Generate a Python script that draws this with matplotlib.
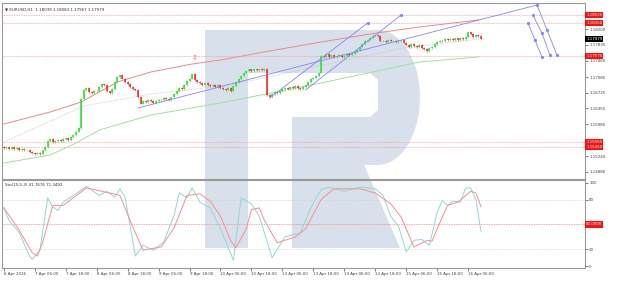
import numpy as np
import matplotlib
matplotlib.use('Agg')
import matplotlib.pyplot as plt
from matplotlib.patches import Polygon
from matplotlib.transforms import Affine2D, blended_transform_factory

# Свічки EURUSD H1 (індекс бару, ціни закриття)
first_bar = -16
closes = [
    1.1544, 1.1546, 1.1542, 1.1545, 1.1541, 1.1543, 1.1540, 1.1542, 1.1538, 1.1539, 1.1535, 1.1533,
    1.1529, 1.1532, 1.1530, 1.1538, 1.1546, 1.1560, 1.1564, 1.1557, 1.1560, 1.1563, 1.1559, 1.1564,
    1.1566, 1.1562, 1.1569, 1.1574, 1.1582, 1.1590, 1.1658, 1.1679, 1.1684, 1.1674, 1.1671, 1.1676,
    1.1675, 1.1686, 1.1693, 1.1689, 1.1675, 1.1672, 1.1681, 1.1697, 1.1709, 1.1713, 1.1705, 1.1697,
    1.1692, 1.1686, 1.1681, 1.1678, 1.1661, 1.1647, 1.1653, 1.1650, 1.1655, 1.1652, 1.1648, 1.1653,
    1.1656, 1.1654, 1.1659, 1.1657, 1.1655, 1.1661, 1.1669, 1.1676, 1.1682, 1.1680, 1.1689, 1.1699,
    1.1705, 1.1716, 1.1702, 1.1697, 1.1695, 1.1691, 1.1694, 1.1690, 1.1687, 1.1689, 1.1686, 1.1690,
    1.1684, 1.1681, 1.1679, 1.1682, 1.1676, 1.1688, 1.1696, 1.1703, 1.1710, 1.1718, 1.1722, 1.1726,
    1.1722, 1.1726, 1.1724, 1.1728, 1.1725, 1.1727, 1.1666, 1.1663, 1.1669, 1.1673, 1.1671, 1.1676,
    1.1680, 1.1683, 1.1681, 1.1685, 1.1682, 1.1687, 1.1684, 1.1681, 1.1686, 1.1690, 1.1696, 1.1703,
    1.1707, 1.1711, 1.1719, 1.1757, 1.1755, 1.1761, 1.1756, 1.1759, 1.1754, 1.1757, 1.1760, 1.1755,
    1.1758, 1.1762, 1.1759, 1.1763, 1.1767, 1.1772, 1.1779, 1.1786, 1.1792, 1.1794, 1.1799, 1.1803,
    1.1805, 1.1803, 1.1792, 1.1793, 1.1790, 1.1794, 1.1791, 1.1793, 1.1789, 1.1792, 1.1794, 1.1787,
    1.1783, 1.1779, 1.1785, 1.1780, 1.1778, 1.1782, 1.1776, 1.1773, 1.1769, 1.1775, 1.1779, 1.1785,
    1.1789, 1.1793, 1.1792, 1.1796, 1.1794, 1.1797, 1.1795, 1.1798, 1.1794, 1.1799, 1.1797, 1.1802,
    1.1812, 1.1808, 1.1802, 1.1806, 1.18039, 1.17979,
]
first_open = 1.1545

# Ковзні лінії (бар, ціна)
red_bars = [-16, 2, 14, 21, 28, 41, 57, 68, 87, 107, 126, 145, 168]
red_vals = [1.15994, 1.16273, 1.16505, 1.16737, 1.16969, 1.17202, 1.17387, 1.17480,
            1.17689, 1.17898, 1.18084, 1.18246, 1.18409]
grey_bars = [-16, 15, 41, 68, 81, 113, 139, 165, 168]
grey_vals = [1.15576, 1.16412, 1.16691, 1.16876, 1.17016, 1.17434, 1.17759, 1.17945, 1.17968]
green_bars = [-16, 2, 12, 21, 41, 68, 107, 145, 168]
green_vals = [1.15089, 1.15274, 1.15553, 1.15855, 1.16203, 1.16482, 1.16946, 1.17434, 1.17550]

# Рівні
red_levels = [1.18525, 1.18350, 1.17575, 1.15565, 1.15450]
last_price = 1.17979

# Трендові лінії (бар, ціна)
trend_lines = [
    ([36, 190.7], [1.16366, 1.18757]),
    ([87, 125], [1.16598, 1.18339]),
    ([101, 138], [1.16784, 1.18525]),
]
fan_lines = [
    ([190.7, 194.6, 198.4], [1.18757, 1.18177, 1.17596]),
    ([189.1, 192.6, 195.7], [1.18525, 1.18107, 1.17596]),
    ([187.2, 189.9, 192.6], [1.18339, 1.17945, 1.17550]),
]

# Стохастик
k_bars = [-16, -14, -10, -6, -5, -2, 1, 3, 5, 7, 11, 16, 21, 24, 27, 29, 31, 35, 38, 42, 46, 50,
          52, 55, 57, 60, 64, 68, 73, 76, 80, 83, 88, 93, 99, 103, 107, 110, 116, 122, 128, 131,
          134, 137, 140, 143, 146, 149, 152, 154, 156, 158, 161, 163, 165, 167, 169]
k_vals = [70, 55, 40, 12, 8, 19, 82, 71, 67, 77, 85, 96, 85, 90, 83, 93, 83, 12, 25, 19, 29, 61,
          88, 82, 94, 77, 70, 45, 7, 82, 75, 60, 10, 35, 40, 70, 92, 95, 90, 95, 93, 85,
          60, 48, 17, 31, 32, 25, 65, 79, 73, 78, 77, 94, 94, 80, 41.77]
d_bars = [-16, -10, -5, -3, -1, 3, 7, 16, 25, 29, 34, 38, 45, 50, 55, 60, 64, 68, 72, 74, 78,
          80, 83, 85, 90, 97, 101, 107, 112, 122, 128, 134, 138, 143, 148, 150, 153, 156, 160,
          165, 167, 169]
d_vals = [70, 43, 16, 12, 28, 73, 73, 94, 88, 85, 47, 19, 23, 46, 85, 87, 78, 60, 30, 22, 45,
          68, 70, 55, 28, 35, 45, 80, 93, 93, 88, 75, 59, 23, 31, 30, 52, 73, 77,
          90, 88, 71.35]

# Осі часу
tick_labels = ['6 Apr 2026', '7 Apr 06:00', '7 Apr 18:00', '8 Apr 06:00', '8 Apr 18:00',
               '9 Apr 06:00', '9 Apr 18:00', '10 Apr 06:00', '10 Apr 18:00', '13 Apr 06:00',
               '13 Apr 18:00', '14 Apr 06:00', '14 Apr 18:00', '15 Apr 06:00', '15 Apr 18:00',
               '16 Apr 06:00']
tick_bars = [-16] + [-4 + 12 * k for k in range(15)]
price_ticks = [1.18200, 1.17835, 1.17460, 1.17085, 1.16725, 1.16355, 1.15985, 1.15240, 1.14880]

W, H = 631, 286
fig = plt.figure(figsize=(W / 100, H / 100), dpi=100)
fig.patch.set_facecolor('white')

ax = fig.add_axes([2 / W, (H - 179) / H, 583 / W, 176 / H])
axs = fig.add_axes([2 / W, (H - 268) / H, 583 / W, 88 / H])
for a in (ax, axs):
    a.set_facecolor('none')
    for s in a.spines.values():
        s.set_color('#9a9a9a')
        s.set_linewidth(0.8)
    a.set_xlim(-16.7, 209.3)
    a.yaxis.tick_right()
    a.tick_params(axis='both', labelsize=2.9, colors='#444444', length=2, width=0.5, pad=1)

# Водяний знак (пікселі)
px = Affine2D().scale(1 / W, -1 / H).translate(0, 1) + fig.transFigure
wm = '#d8e0eb'
ang = np.linspace(np.pi / 2, -np.pi / 2, 20)
right = [(378 + 42 * np.cos(t), 97.5 - 67.5 * np.sin(t)) for t in ang]
outer = [(205, 30)] + right + [(205, 165)]
fig.add_artist(Polygon(outer, closed=True, transform=px, facecolor=wm, edgecolor='none', zorder=-2))
fig.add_artist(Polygon([(205, 30), (248, 30), (248, 248), (205, 248)], transform=px,
                       facecolor=wm, edgecolor='none', zorder=-2))
fig.add_artist(Polygon([(292, 160), (362, 160), (400, 248), (292, 248)], transform=px,
                       facecolor=wm, edgecolor='none', zorder=-2))
fig.add_artist(Polygon([(248, 73), (370, 73), (378, 80), (378, 110), (370, 117), (292, 117),
                        (292, 170), (248, 170)],
                       transform=px, facecolor='white', edgecolor='none', zorder=-1))

# Свічки
bars = np.arange(first_bar, first_bar + len(closes))
c = np.array(closes)
o = np.array([first_open] + closes[:-1])
hi = np.maximum(o, c) + 0.00022
lo = np.minimum(o, c) - 0.00022
up = c >= o
body_top = np.where(np.abs(c - o) < 0.00005, np.maximum(o, c) + 0.00003, np.maximum(o, c))
body_bot = np.where(np.abs(c - o) < 0.00005, np.minimum(o, c) - 0.00003, np.minimum(o, c))
for mask, col in ((up, '#22e622'), (~up, '#ff2020')):
    ax.vlines(bars[mask], lo[mask], hi[mask], color=col, lw=0.4, zorder=3)
    ax.vlines(bars[mask], body_bot[mask], body_top[mask], color=col, lw=1.1, zorder=3)

ax.plot(red_bars, red_vals, color='#f08a8a', lw=0.7, zorder=2)
ax.plot(grey_bars, grey_vals, color='#c4c4c4', lw=0.6, ls=(0, (1, 1.2)), zorder=2)
ax.plot(green_bars, green_vals, color='#9fe39f', lw=0.7, zorder=2)

for lv in red_levels:
    ax.axhline(lv, color='#ff9c9c', lw=0.6, ls=(0, (1, 1)), zorder=1)

for xs, ys in trend_lines:
    ax.plot(xs, ys, color='#8585ff', lw=0.6, zorder=4)
for xs, ys in trend_lines[1:]:
    ax.plot(xs[1], ys[1], 'o', color='#8585ff', ms=1.3, zorder=4)
for xs, ys in fan_lines:
    ax.plot(xs, ys, color='#8585ff', lw=0.6, marker='o', ms=1.3, zorder=4)

ax.text(58, 1.1753, '\u21e9', color='#ff5050', fontsize=5, ha='center', va='center', zorder=5)

ax.set_ylim(1.14717, 1.18804)
ax.set_yticks(price_ticks)
ax.set_yticklabels(['%.5f' % p for p in price_ticks])
ax.set_xticks(tick_bars)
ax.tick_params(axis='x', labelbottom=False, length=0)

tr = blended_transform_factory(ax.transAxes, ax.transData)
for lv in red_levels:
    ax.text(1.002, lv, '%.5f' % lv, transform=tr, fontsize=2.9, color='white', va='center',
            ha='left', bbox=dict(boxstyle='square,pad=0.25', fc='#ff1010', ec='none'), zorder=6)
ax.text(1.002, last_price, '%.5f' % last_price, transform=tr, fontsize=2.9, color='white',
        va='center', ha='left', bbox=dict(boxstyle='square,pad=0.25', fc='black', ec='none'))

ax.text(0.006, 0.975, '\u25bc EURUSD,H1  1.18039 1.18083 1.17967 1.17979', transform=ax.transAxes,
        fontsize=2.9, color='#333333', va='top', ha='left')

# Стохастик
axs.set_ylim(-2.4, 103.6)
for lv in (80, 20):
    axs.axhline(lv, color='#cfcfcf', lw=0.5, ls=(0, (1, 1.2)))
axs.axhline(50, color='#ff8080', lw=0.6, ls=(0, (1, 1)))
axs.plot(k_bars, k_vals, color='#8adbd8', lw=0.7)
axs.plot(d_bars, d_vals, color='#ff8c8c', lw=0.7)
axs.set_yticks([0, 20, 80, 100])
axs.set_yticklabels(['0', '20', '80', '100'])
trs = blended_transform_factory(axs.transAxes, axs.transData)
axs.text(1.002, 50, '50.0000', transform=trs, fontsize=2.9, color='white', va='center', ha='left',
         bbox=dict(boxstyle='square,pad=0.25', fc='#ff1010', ec='none'))
axs.text(0.006, 0.97, 'Sto(15,5,3) 41.7676 71.3492', transform=axs.transAxes,
         fontsize=2.9, color='#333333', va='top', ha='left')
axs.set_xticks(tick_bars)
axs.set_xticklabels(tick_labels, ha='left')

fig.savefig('out.png', dpi=100)
